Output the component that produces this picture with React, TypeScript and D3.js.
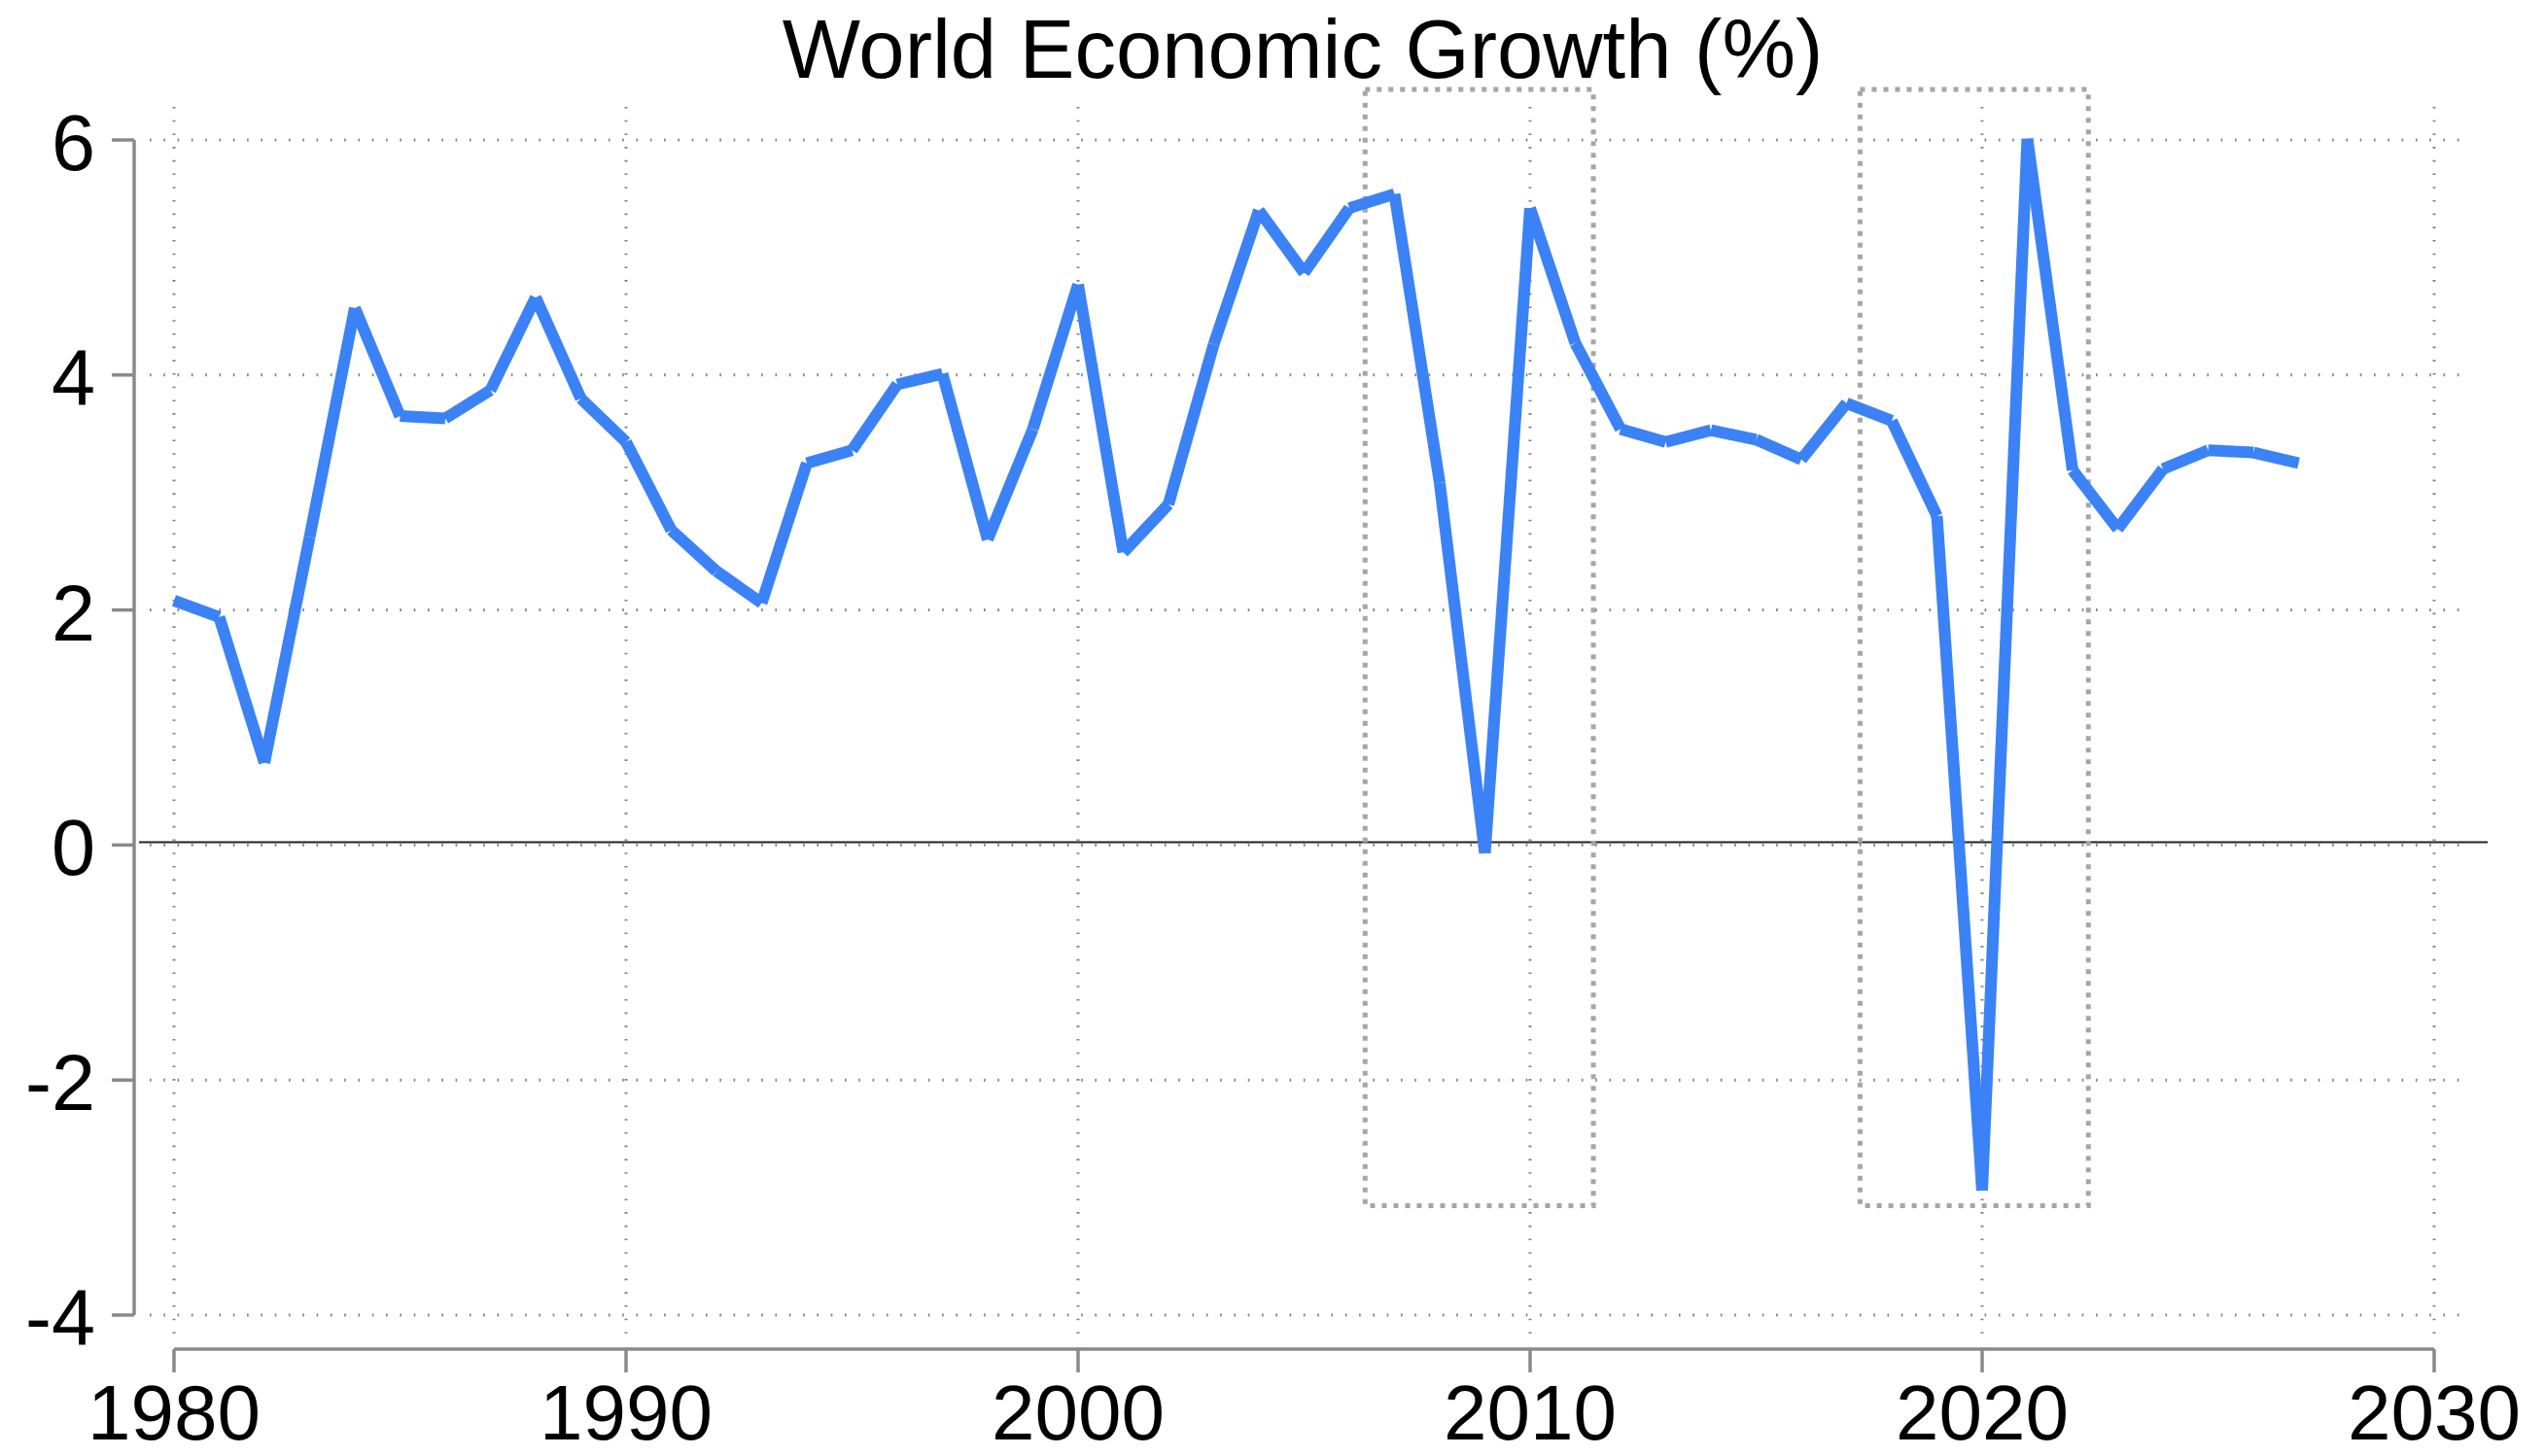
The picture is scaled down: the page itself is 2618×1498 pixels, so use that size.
import React, { useEffect } from "react";
import * as d3 from "d3";

const years: number[] = [
  1980, 1981, 1982, 1983, 1984, 1985, 1986, 1987, 1988, 1989,
  1990, 1991, 1992, 1993, 1994, 1995, 1996, 1997, 1998, 1999,
  2000, 2001, 2002, 2003, 2004, 2005, 2006, 2007, 2008, 2009,
  2010, 2011, 2012, 2013, 2014, 2015, 2016, 2017, 2018, 2019,
  2020, 2021, 2022, 2023, 2024, 2025, 2026, 2027,
];

const growth: number[] = [
  2.08, 1.94, 0.7, 2.62, 4.57, 3.65, 3.63, 3.87, 4.66, 3.8,
  3.43, 2.68, 2.33, 2.06, 3.25, 3.36, 3.92, 4.01, 2.6, 3.54,
  4.77, 2.49, 2.9, 4.26, 5.4, 4.87, 5.42, 5.54, 3.08, -0.07,
  5.42, 4.27, 3.54, 3.43, 3.53, 3.45, 3.28, 3.76, 3.61, 2.8,
  -2.94, 6.01, 3.19, 2.69, 3.2, 3.36, 3.34, 3.25,
];

const xTicks: number[] = [1980, 1990, 2000, 2010, 2020, 2030];
const yTicks: number[] = [-4, -2, 0, 2, 4, 6];

// crisis highlight boxes: [start year, end year]
const boxYears: [number, number][] = [
  [2006.35, 2011.4],
  [2017.3, 2022.35],
];
const boxRange: [number, number] = [-3.07, 6.43];

const title = "World Economic Growth (%)";

const W = 2618;
const H = 1498;
const FONT = "'Liberation Sans', Arial, Helvetica, sans-serif";

const App = () => {
  useEffect(() => {
    document.body.style.margin = "0";
  }, []);

  const x = d3.scaleLinear().domain([1980, 2030]).range([179, 2504]);
  const y = d3.scaleLinear().domain([-4, 6]).range([1353, 144]);

  const points = years.map((yr, i) => ({ yr, v: growth[i] }));
  const segs = d3.pairs(points);

  const line = d3
    .line<{ yr: number; v: number }>()
    .x((d) => x(d.yr))
    .y((d) => y(d.v));

  const axisY = 1388;
  const axisX = 138;
  const gridLeft = 154;
  const gridRight = 2542;
  const gridTop = 110;
  const gridBottom = 1377;

  return (
    <div style={{ position: "absolute", left: 0, top: 0 }}>
      <svg width={W} height={H} style={{ display: "block", background: "#fff" }}>
        {/* grid */}
        {yTicks.map((t) => (
          <line
            key={"hg" + t}
            x1={gridLeft}
            x2={gridRight}
            y1={y(t)}
            y2={y(t)}
            stroke="#808080"
            strokeWidth={3}
            strokeDasharray="1.6 12.7"
          />
        ))}
        {xTicks.map((t) => (
          <line
            key={"vg" + t}
            x1={x(t)}
            x2={x(t)}
            y1={gridTop}
            y2={gridBottom}
            stroke="#808080"
            strokeWidth={3}
            strokeDasharray="1.6 12.1"
          />
        ))}

        {/* zero line */}
        <line x1={143} x2={2559} y1={y(0) - 3} y2={y(0) - 3} stroke="#222" strokeWidth={2} />

        {/* highlight boxes */}
        {boxYears.map(([a, b], i) => (
          <rect
            key={"box" + i}
            x={x(a)}
            y={y(boxRange[1])}
            width={x(b) - x(a)}
            height={y(boxRange[0]) - y(boxRange[1])}
            fill="none"
            stroke="#a6a6a6"
            strokeWidth={5}
            strokeDasharray="5 7"
          />
        ))}

        {/* series, drawn segment by segment */}
        {segs.map((s, i) => (
          <path
            key={"seg" + i}
            d={line(s) || ""}
            fill="none"
            stroke="#3b82f6"
            strokeWidth={12}
            strokeLinecap="butt"
          />
        ))}

        {/* y axis */}
        <line x1={axisX} x2={axisX} y1={y(6)} y2={y(-4)} stroke="#8a8a8a" strokeWidth={3.5} />
        {yTicks.map((t) => (
          <g key={"yt" + t}>
            <line x1={axisX - 23} x2={axisX} y1={y(t)} y2={y(t)} stroke="#8a8a8a" strokeWidth={3.5} />
            <text
              x={axisX - 40}
              y={y(t) + 31}
              textAnchor="end"
              fontFamily={FONT}
              fontSize={81}
              fill="#000"
            >
              {t}
            </text>
          </g>
        ))}

        {/* x axis */}
        <line x1={x(1980)} x2={x(2030)} y1={axisY} y2={axisY} stroke="#8a8a8a" strokeWidth={3.5} />
        {xTicks.map((t) => (
          <g key={"xt" + t}>
            <line x1={x(t)} x2={x(t)} y1={axisY} y2={axisY + 24} stroke="#8a8a8a" strokeWidth={3.5} />
            <text
              x={x(t)}
              y={axisY + 93}
              textAnchor="middle"
              fontFamily={FONT}
              fontSize={80}
              fill="#000"
            >
              {t}
            </text>
          </g>
        ))}

        {/* title */}
        <text x={1340} y={80} textAnchor="middle" fontFamily={FONT} fontSize={85} fill="#000">
          {title}
        </text>
      </svg>
    </div>
  );
};

export default App;
